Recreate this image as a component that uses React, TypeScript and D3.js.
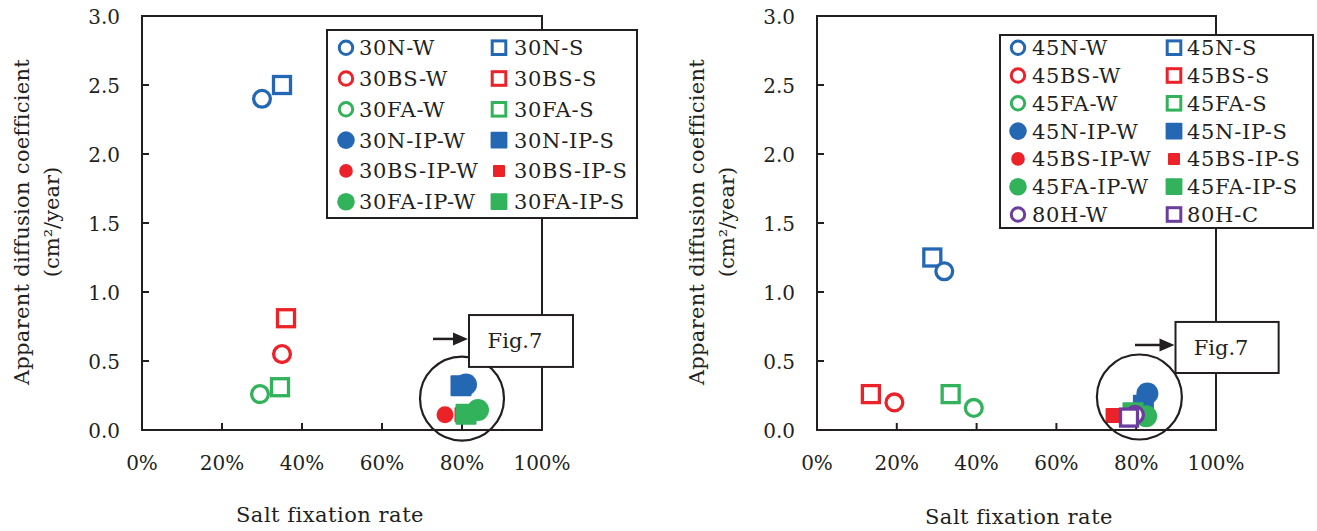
import React from "react";
import * as d3 from "d3";

// Axis ticks shared by both panels
const RATE_TICKS = [0, 0.2, 0.4, 0.6, 0.8, 1.0];
const COEF_TICKS = [0, 0.5, 1.0, 1.5, 2.0, 2.5, 3.0];

// W/C = 30 series
const names30 = [
  "30N-W", "30N-S", "30BS-W", "30BS-S", "30FA-W", "30FA-S",
  "30N-IP-W", "30N-IP-S", "30BS-IP-W", "30BS-IP-S", "30FA-IP-W", "30FA-IP-S",
];
const rate30 = [0.30, 0.35, 0.35, 0.36, 0.295, 0.345, 0.81, 0.7975, 0.7575, 0.80, 0.84, 0.81];
const coef30 = [2.40, 2.50, 0.55, 0.81, 0.26, 0.31, 0.33, 0.32, 0.11, 0.11, 0.145, 0.115];
const order30 = [1, 0, 3, 2, 5, 4, 6, 7, 8, 9, 10, 11];

// W/C = 45 series (plus 80H)
const names45 = [
  "45N-W", "45N-S", "45BS-W", "45BS-S", "45FA-W", "45FA-S",
  "45N-IP-W", "45N-IP-S", "45BS-IP-W", "45BS-IP-S", "45FA-IP-W", "45FA-IP-S",
  "80H-W", "80H-C",
];
const rate45 = [0.319, 0.289, 0.194, 0.135, 0.393, 0.335, 0.828, 0.818, 0.80, 0.742, 0.825, 0.792, 0.797, 0.782];
const coef45 = [1.15, 1.25, 0.20, 0.26, 0.16, 0.26, 0.265, 0.18, 0.11, 0.105, 0.10, 0.125, 0.11, 0.09];
const order45 = [1, 0, 3, 2, 5, 4, 6, 7, 8, 9, 10, 11, 12, 13];

const FONT = "'DejaVu Serif', 'Liberation Serif', serif";
const INK = "#231f20";
const BLUE = "#2468b4";
const RED = "#ec2229";
const GREEN = "#31b25b";
const PURPLE = "#6b3d9e";

type Style = { color: string; shape: "circle" | "square"; filled: boolean; small: boolean };

// Marker style follows the specimen name
function styleOf(name: string): Style {
  const color = name.includes("BS") ? RED : name.includes("FA") ? GREEN : name.includes("H") ? PURPLE : BLUE;
  const shape = name.endsWith("-W") ? "circle" : "square";
  const filled = name.includes("IP");
  const small = filled && name.includes("BS");
  return { color, shape, filled, small };
}

function Marker({ cx, cy, s, legend }: { cx: number; cy: number; s: Style; legend?: boolean }) {
  const k = legend ? 0.8 : 1;
  if (s.filled) {
    if (s.shape === "circle") {
      const r = (s.small ? 8.5 : 11) * k;
      return <circle cx={cx} cy={cy} r={r} fill={s.color} />;
    }
    const a = (s.small ? 15 : 21) * k;
    return <rect x={cx - a / 2} y={cy - a / 2} width={a} height={a} rx={1} fill={s.color} />;
  }
  const sw = legend ? 3 : 3.3;
  if (s.shape === "circle") {
    return <circle cx={cx} cy={cy} r={8.4 * k} fill="#fff" stroke={s.color} strokeWidth={sw} />;
  }
  const a = 17 * k;
  return <rect x={cx - a / 2} y={cy - a / 2} width={a} height={a} fill="#fff" stroke={s.color} strokeWidth={sw} />;
}

type PanelProps = {
  names: string[];
  rates: number[];
  coefs: number[];
  order: number[];
  left: number;
  right: number;
  xTitleX: number;
  xTitleY: number;
  legend: { x: number; y: number; w: number; h: number; row0: number; step: number; mk: number[]; tx: number[] };
  note: { cx: number; cy: number; r: number; bx0: number; bx1: number; by0: number; by1: number; ax0: number; ay: number };
};

function Panel(p: PanelProps) {
  const x = d3.scaleLinear().domain([0, 1]).range([p.left, p.right]);
  const y = d3.scaleLinear().domain([0, 3]).range([430, 16]);
  const pct = d3.format(".0%");
  const dec = d3.format(".1f");
  const top = y(3);
  const bottom = y(0);
  const L = p.legend;
  const n = p.note;
  const boxL = x(n.bx0);
  const boxR = x(n.bx1);
  const boxT = y(n.by0);
  const boxB = y(n.by1);
  const arrowY = y(n.ay);
  return (
    <g>
      {/* plot frame */}
      <rect x={p.left} y={top} width={p.right - p.left} height={bottom - top} fill="none" stroke={INK} strokeWidth={2} />
      {RATE_TICKS.slice(1, -1).map((t) => (
        <line key={"xt" + t} x1={x(t)} x2={x(t)} y1={bottom} y2={bottom - 7} stroke={INK} strokeWidth={2} />
      ))}
      {COEF_TICKS.slice(1, -1).map((t) => (
        <line key={"yt" + t} x1={p.left} x2={p.left + 7} y1={y(t)} y2={y(t)} stroke={INK} strokeWidth={2} />
      ))}
      {RATE_TICKS.map((t) => (
        <text key={"xl" + t} x={x(t)} y={470} textAnchor="middle" fontSize={20} fontFamily={FONT} fill={INK}>
          {pct(t)}
        </text>
      ))}
      {COEF_TICKS.map((t) => (
        <text key={"yl" + t} x={p.left - 22} y={y(t) + 8} textAnchor="end" fontSize={20} fontFamily={FONT} fill={INK}>
          {dec(t)}
        </text>
      ))}
      {/* axis titles */}
      <text x={p.xTitleX} y={p.xTitleY} textAnchor="middle" fontSize={21} letterSpacing={0.5} fontFamily={FONT} fill={INK}>
        Salt fixation rate
      </text>
      <text
        transform={`translate(${p.left - 120},222) rotate(-90)`}
        textAnchor="middle"
        dominantBaseline="central"
        fontSize={21}
        letterSpacing={0.3}
        fontFamily={FONT}
        fill={INK}
      >
        Apparent diffusion coefficient
      </text>
      <text
        transform={`translate(${p.left - 90},222) rotate(-90)`}
        textAnchor="middle"
        dominantBaseline="central"
        fontSize={21}
        fontFamily={FONT}
        fill={INK}
      >
        (cm²/year)
      </text>
      {/* data points */}
      {p.order.map((i) => (
        <Marker key={p.names[i]} cx={x(p.rates[i])} cy={y(p.coefs[i])} s={styleOf(p.names[i])} />
      ))}
      {/* highlighted group */}
      <circle cx={x(n.cx)} cy={y(n.cy)} r={n.r} fill="none" stroke={INK} strokeWidth={2.2} />
      <line x1={x(n.ax0)} x2={boxL - 12} y1={arrowY} y2={arrowY} stroke={INK} strokeWidth={2.5} />
      <polygon points={`${boxL - 1},${arrowY} ${boxL - 16},${arrowY - 6.5} ${boxL - 16},${arrowY + 6.5}`} fill={INK} />
      <rect x={boxL} y={boxT} width={boxR - boxL} height={boxB - boxT} fill="#fff" stroke={INK} strokeWidth={2} />
      <text x={(boxL + boxR) / 2 - 6} y={(boxT + boxB) / 2 + 7.5} textAnchor="middle" fontSize={21} fontFamily={FONT} fill={INK}>
        Fig.7
      </text>
      {/* legend */}
      <rect x={L.x} y={L.y} width={L.w} height={L.h} fill="#fff" stroke={INK} strokeWidth={2} />
      {p.names.map((name, i) => {
        const col = i % 2;
        const row = Math.floor(i / 2);
        const cy = L.row0 + row * L.step;
        return (
          <g key={"lg" + name}>
            <Marker cx={L.mk[col]} cy={cy} s={styleOf(name)} legend />
            <text x={L.tx[col]} y={cy + 7.5} fontSize={21} letterSpacing={0.7} fontFamily={FONT} fill={INK}>
              {name}
            </text>
          </g>
        );
      })}
    </g>
  );
}

export default function App() {
  return (
    <svg
      width={1317}
      height={531}
      viewBox="0 0 1317 531"
      style={{ position: "absolute", left: 0, top: 0, background: "#fff" }}
    >
      <rect width={1317} height={531} fill="#fff" />
      <Panel
        names={names30}
        rates={rate30}
        coefs={coef30}
        order={order30}
        left={142}
        right={542}
        xTitleX={330}
        xTitleY={522}
        legend={{ x: 327, y: 30, w: 310, h: 188, row0: 47.7, step: 30.8, mk: [346, 499], tx: [359, 514] }}
        note={{ cx: 0.80, cy: 0.228, r: 42, bx0: 0.8175, bx1: 1.0775, by0: 0.833, by1: 0.457, ax0: 0.7275, ay: 0.66 }}
      />
      <Panel
        names={names45}
        rates={rate45}
        coefs={coef45}
        order={order45}
        left={817}
        right={1216}
        xTitleX={1019}
        xTitleY={524}
        legend={{ x: 1000, y: 35, w: 313, h: 193, row0: 47.7, step: 27.8, mk: [1018, 1174], tx: [1032, 1187] }}
        note={{ cx: 0.808, cy: 0.239, r: 42.5, bx0: 0.8985, bx1: 1.157, by0: 0.783, by1: 0.413, ax0: 0.797, ay: 0.616 }}
      />
    </svg>
  );
}
